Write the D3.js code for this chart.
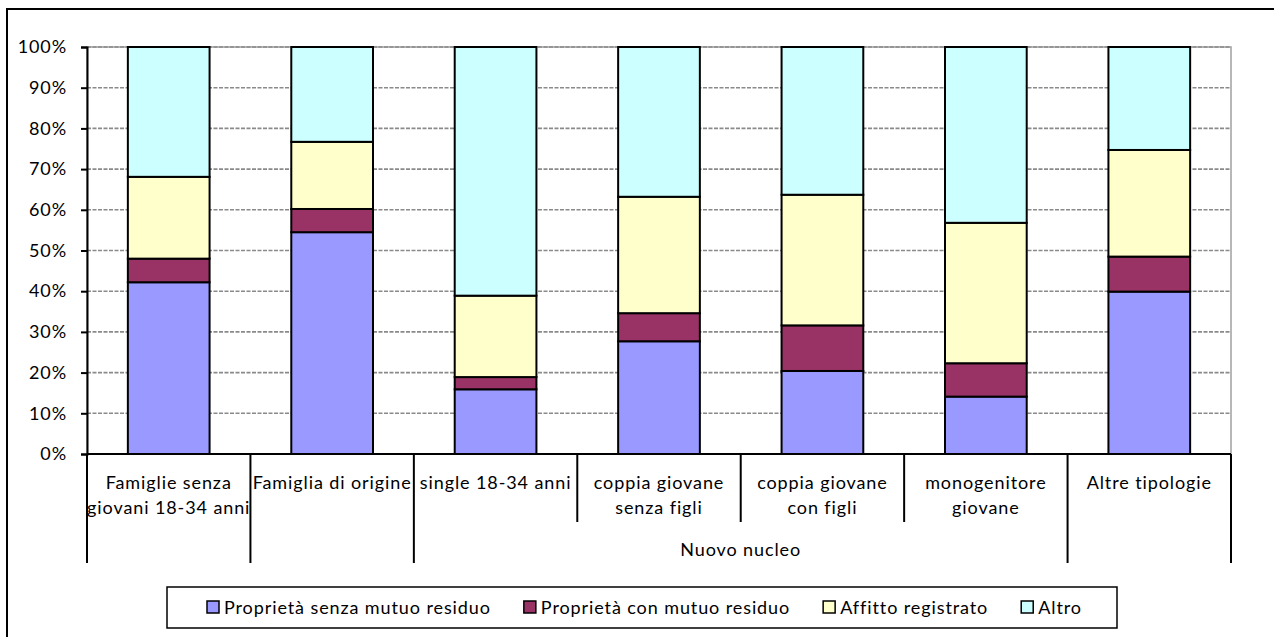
<!DOCTYPE html>
<html><head><meta charset="utf-8">
<script src="https://cdn.jsdelivr.net/npm/d3@7"></script>
<style>
body{margin:0;background:#fff;}
text{font-family:Lato,"Open Sans",sans-serif;fill:#000;letter-spacing:0.9px;}
</style>
</head><body>
<svg id="chart" width="1274" height="637"></svg>
<script>
// ---- data ----
const categories = ["Famiglie senza\ngiovani 18-34 anni", "Famiglia di origine", "single 18-34 anni",
  "coppia giovane\nsenza figli", "coppia giovane\ncon figli", "monogenitore\ngiovane", "Altre tipologie"];
const groupLabels = ["", "", "Nuovo nucleo", "Nuovo nucleo", "Nuovo nucleo", "Nuovo nucleo", ""];
const seriesNames = ["Proprietà senza mutuo residuo", "Proprietà con mutuo residuo", "Affitto registrato", "Altro"];
const proprietaSenzaMutuo = [42.2, 54.5, 15.9, 27.7, 20.4, 14.1, 39.9];
const proprietaConMutuo   = [5.8, 5.7, 3.0, 6.9, 11.2, 8.2, 8.6];
const affittoRegistrato   = [20.1, 16.5, 20.0, 28.6, 32.1, 34.5, 26.2];
const altro               = [31.9, 23.3, 61.1, 36.8, 36.3, 43.2, 25.3];
const yTicks = [0, 10, 20, 30, 40, 50, 60, 70, 80, 90, 100];
const colors = ["#9999FF", "#993366", "#FFFFCC", "#CCFFFF"];

// ---- layout ----
const svg = d3.select("#chart");
const L = 87, R = 1231, T = 47, B = 454;
const FS = 18;
const rows = categories.map((c, i) => ({
  cat: i,
  [seriesNames[0]]: proprietaSenzaMutuo[i],
  [seriesNames[1]]: proprietaConMutuo[i],
  [seriesNames[2]]: affittoRegistrato[i],
  [seriesNames[3]]: altro[i]
}));
const x = d3.scaleBand().domain(d3.range(categories.length)).range([L, R]).paddingInner(0.5).paddingOuter(0.25);
const y = d3.scaleLinear().domain([0, 100]).range([B, T]);
const color = d3.scaleOrdinal().domain(seriesNames).range(colors);

// outer border
svg.append("rect").attr("x", 7).attr("y", 9).attr("width", 1300).attr("height", 700)
  .attr("fill", "#fff").attr("stroke", "#000").attr("stroke-width", 2);

// plot area border
svg.append("rect").attr("x", L).attr("y", T).attr("width", R - L).attr("height", B - T)
  .attr("fill", "none").attr("stroke", "#a0a0a0").attr("stroke-width", 1.5);

// gridlines
svg.append("g").selectAll("line").data(yTicks.filter(d => d > 0)).join("line")
  .attr("x1", L).attr("x2", R).attr("y1", d => y(d)).attr("y2", d => y(d))
  .attr("stroke", "#8a8a8a").attr("stroke-width", 1.6).attr("stroke-dasharray", "4,1.5");

// bars
const stack = d3.stack().keys(seriesNames)(rows);
svg.append("g").selectAll("g").data(stack).join("g")
  .attr("fill", d => color(d.key))
  .selectAll("rect").data(d => d).join("rect")
  .attr("x", d => x(d.data.cat)).attr("width", x.bandwidth())
  .attr("y", d => y(d[1])).attr("height", d => y(d[0]) - y(d[1]))
  .attr("stroke", "#000").attr("stroke-width", 2);

// y axis
const yAxis = d3.axisLeft(y).tickValues(yTicks).tickFormat(d => d + "%").tickSize(6).tickPadding(14);
const ya = svg.append("g").attr("transform", `translate(${L},0)`).call(yAxis);
ya.select(".domain").attr("stroke", "#000").attr("stroke-width", 2);
ya.selectAll(".tick line").attr("stroke", "#000").attr("stroke-width", 2);
ya.selectAll(".tick text").attr("font-size", FS).attr("font-family", "Lato, sans-serif").attr("fill", "#000");

// x axis baseline
const xa = svg.append("g");
xa.append("line").attr("x1", L).attr("x2", R).attr("y1", B).attr("y2", B).attr("stroke", "#000").attr("stroke-width", 2);

// boundaries
const step = x.step();
const bounds = d3.range(categories.length + 1).map(i => {
  const left = groupLabels[i - 1], right = groupLabels[i];
  const inside = i > 0 && i < categories.length && left !== "" && left === right;
  return { pos: i, full: !inside };
});
const bx = i => L + i * step;
xa.selectAll("line.div").data(bounds).join("line").attr("class", "div")
  .attr("x1", d => bx(d.pos)).attr("x2", d => bx(d.pos))
  .attr("y1", B).attr("y2", d => d.full ? 563 : 522)
  .attr("stroke", "#000").attr("stroke-width", 2);

// category labels
const catText = xa.selectAll("text.cat").data(categories).join("text").attr("class", "cat")
  .attr("text-anchor", "middle").attr("font-size", FS)
  .attr("transform", (d, i) => `translate(${x(i) + x.bandwidth() / 2},489)`);
catText.selectAll("tspan").data(d => d.split("\n")).join("tspan")
  .attr("x", 0).attr("y", (d, i) => i * 25).text(d => d);

// group labels
const groupSpans = [];
groupLabels.forEach((g, i) => {
  if (!g) return;
  const last = groupSpans[groupSpans.length - 1];
  if (last && last.label === g && last.end === i - 1) last.end = i;
  else groupSpans.push({ label: g, start: i, end: i });
});
xa.selectAll("text.grp").data(groupSpans).join("text").attr("class", "grp")
  .attr("text-anchor", "middle").attr("font-size", FS)
  .attr("x", d => (bx(d.start) + bx(d.end + 1)) / 2).attr("y", 556).text(d => d.label);

// legend
const lg = svg.append("g");
lg.append("rect").attr("x", 167).attr("y", 587).attr("width", 950).attr("height", 41)
  .attr("fill", "#fff").attr("stroke", "#000").attr("stroke-width", 1.5);
let cx = 207;
seriesNames.forEach(name => {
  const g = lg.append("g").attr("transform", `translate(${cx},0)`);
  g.append("rect").attr("x", 0).attr("y", 601).attr("width", 12).attr("height", 12)
    .attr("fill", color(name)).attr("stroke", "#000").attr("stroke-width", 1.5);
  const t = g.append("text").attr("x", 17).attr("y", 614).attr("font-size", FS).text(name);
  cx += 17 + t.node().getComputedTextLength() + 33;
});
</script>
</body></html>
